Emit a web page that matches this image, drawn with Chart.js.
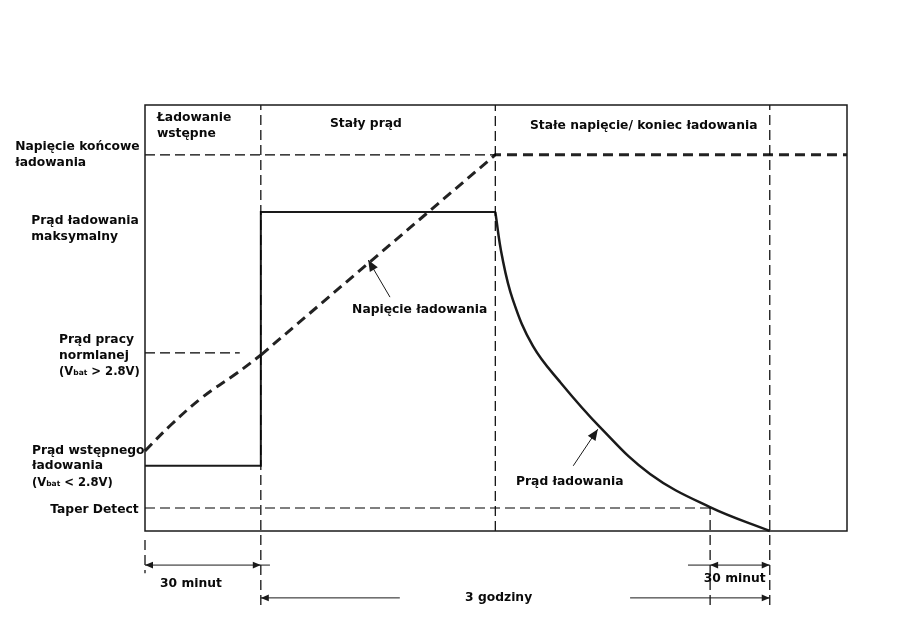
<!DOCTYPE html>
<html><head><meta charset="utf-8">
<script src="https://cdn.jsdelivr.net/npm/chart.js@4/dist/chart.umd.min.js"></script>
<style>html,body{margin:0;padding:0;background:#fff}#wrap{width:901px;height:628px;position:relative}</style>
</head><body><div id="wrap"><canvas id="c" width="901" height="628"></canvas></div>
<script>
// Time axis 0..100 (relative units), level axis 0..100 (relative units)
const tPreEnd = 16.5;      // end of pre-charge (30 minut)
const tCCEnd = 49.9;       // end of constant current
const tTaper = 80.5;       // taper detect
const tEnd = 89.0;         // end of charging (3 godziny)
const tMax = 100;

const levelEndVoltage = 88.3;  // Napięcie końcowe ładowania
const levelMaxCurrent = 74.9;  // Prąd ładowania maksymalny
const levelNormal = 41.8;      // Prąd pracy normalnej
const levelPre = 15.3;         // Prąd wstępnego ładowania
const levelTaper = 5.4;        // Taper Detect

// Charging current (solid)
const currentStepX = [0, tPreEnd, tPreEnd, tCCEnd];
const currentStepY = [levelPre, levelPre, levelMaxCurrent, levelMaxCurrent];
const currentTaperX = [49.9, 50.85, 52.42, 55.27, 59.12, 64.81, 71.94, 80.48, 89.0];
const currentTaperY = [74.9, 64.6, 54.2, 43.4, 35.0, 24.4, 13.4, 5.6, 0];

// Charging voltage (thick dashed)
const voltCurveX = [0, 3.56, 8.26, 12.96, 16.5];
const voltCurveY = [18.8, 24.7, 31.5, 36.9, 41.3];
const voltLineX = [16.5, 49.9, 100];
const voltLineY = [41.3, 88.3, 88.3];

// Thin dashed guide lines: [x0, y0, x1, y1]
const guides = [
  [0, levelEndVoltage, tCCEnd, levelEndVoltage],
  [0, levelNormal, 13.5, levelNormal],
  [0, levelTaper, tTaper, levelTaper],
  [tPreEnd, -17.4, tPreEnd, 100],
  [tCCEnd, 0, tCCEnd, 100],
  [tEnd, -17.4, tEnd, 100],
  [tTaper, -17.4, tTaper, levelTaper],
  [0, -2.1, 0, -9.9]
];

const pts = (xs, ys) => xs.map((x, i) => ({x, y: ys[i]}));
const ink = '#1a1a1a';

const datasets = [];
guides.forEach(g => datasets.push({
  data: [{x: g[0], y: g[1]}, {x: g[2], y: g[3]}],
  borderColor: '#000', borderWidth: 1.2, borderDash: [10, 5], tension: 0, clip: false
}));
datasets.push({data: pts(currentStepX, currentStepY), borderColor: ink, borderWidth: 2, tension: 0, clip: false});
datasets.push({data: pts(currentTaperX, currentTaperY), borderColor: ink, borderWidth: 2.5, tension: 0.4, clip: false});
datasets.push({data: pts(voltCurveX, voltCurveY), borderColor: '#222', borderWidth: 3, borderDash: [10, 6], tension: 0.4, clip: false});
datasets.push({data: pts(voltLineX, voltLineY), borderColor: '#222', borderWidth: 3, borderDash: [10, 6], tension: 0, clip: false});

// Text annotations (data units)
const labels = [
  ['Napięcie końcowe', -18.5, 90.1], ['ładowania', -18.5, 86.4],
  ['Prąd ładowania', -16.2, 72.8], ['maksymalny', -16.2, 69.0],
  ['Prąd pracy', -12.25, 44.8], ['normlanej', -12.25, 41.1], ['(V{bat} > 2.8V)', -12.25, 37.3],
  ['Prąd wstępnego', -16.1, 18.8], ['ładowania', -16.1, 15.3], ['(V{bat} < 2.8V)', -16.1, 11.3],
  ['Taper Detect', -13.5, 4.9],
  ['Ładowanie', 1.7, 96.9], ['wstępne', 1.7, 93.2],
  ['Stały prąd', 26.35, 95.5],
  ['Stałe napięcie/ koniec ładowania', 54.84, 95.1],
  ['Napięcie ładowania', 29.5, 51.9],
  ['Prąd ładowania', 52.85, 11.5],
  ['30 minut', 2.14, -12.4], ['30 minut', 79.6, -11.3], ['3 godziny', 45.6, -15.7]
];
// Arrow shafts [x0,y0,x1,y1] and heads [tipX,tipY,fromX,fromY,size]
const shafts = [
  [0, -8, 17.8, -8], [77.35, -8, tEnd, -8],
  [tPreEnd, -15.7, 36.3, -15.7], [69.1, -15.7, tEnd, -15.7],
  [34.9, 54.9, 31.8, 63.6], [61.0, 15.3, 64.5, 23.9]
];
const heads = [
  [0, -8, 5, -8, 8], [tPreEnd, -8, 10, -8, 8],
  [tTaper, -8, 85, -8, 8], [tEnd, -8, 84, -8, 8],
  [tPreEnd, -15.7, 25, -15.7, 8], [tEnd, -15.7, 80, -15.7, 8],
  [31.8, 63.6, 34.9, 54.9, 11], [64.5, 23.9, 61.0, 15.3, 11]
];

const decor = {
  id: 'decor',
  afterDatasetsDraw(chart) {
    const {ctx, chartArea: a, scales: {x, y}} = chart;
    ctx.save();
    ctx.strokeStyle = ink; ctx.lineWidth = 1.5; ctx.setLineDash([]);
    ctx.strokeRect(a.left, a.top, a.right - a.left, a.bottom - a.top);
    ctx.lineWidth = 1;
    shafts.forEach(s => {
      ctx.beginPath();
      ctx.moveTo(x.getPixelForValue(s[0]), y.getPixelForValue(s[1]));
      ctx.lineTo(x.getPixelForValue(s[2]), y.getPixelForValue(s[3]));
      ctx.stroke();
    });
    ctx.fillStyle = ink;
    heads.forEach(h => {
      const tx = x.getPixelForValue(h[0]), ty = y.getPixelForValue(h[1]);
      const fx = x.getPixelForValue(h[2]), fy = y.getPixelForValue(h[3]);
      const ang = Math.atan2(ty - fy, tx - fx), L = h[4], W = L * 0.42;
      ctx.beginPath();
      ctx.moveTo(tx, ty);
      ctx.lineTo(tx - L * Math.cos(ang) + W * Math.sin(ang), ty - L * Math.sin(ang) - W * Math.cos(ang));
      ctx.lineTo(tx - L * Math.cos(ang) - W * Math.sin(ang), ty - L * Math.sin(ang) + W * Math.cos(ang));
      ctx.closePath(); ctx.fill();
    });
    ctx.fillStyle = '#0a0a0a';
    ctx.textBaseline = 'middle'; ctx.textAlign = 'left';
    labels.forEach(l => {
      let px = x.getPixelForValue(l[1]); const py = y.getPixelForValue(l[2]);
      const parts = l[0].split(/\{|\}/);
      const hasSub = parts.length > 1;
      const big = hasSub ? 'bold 11.6px "DejaVu Sans"' : 'bold 12.3px "DejaVu Sans"';
      const small = 'bold 7.5px "DejaVu Sans"';
      parts.forEach((p, i) => {
        ctx.font = i % 2 ? small : big;
        ctx.fillText(p, px, py + (i % 2 ? 1 : 0));
        px += ctx.measureText(p).width;
      });
    });
    ctx.restore();
  }
};

new Chart(document.getElementById('c'), {
  type: 'line',
  data: {datasets},
  options: {
    responsive: false, animation: false,
    layout: {padding: {left: 145, right: 54, top: 105, bottom: 97}},
    elements: {point: {radius: 0}},
    plugins: {legend: {display: false}, tooltip: {enabled: false}},
    scales: {
      x: {type: 'linear', min: 0, max: tMax, display: false},
      y: {type: 'linear', min: 0, max: 100, display: false}
    }
  },
  plugins: [decor]
});
</script></body></html>
